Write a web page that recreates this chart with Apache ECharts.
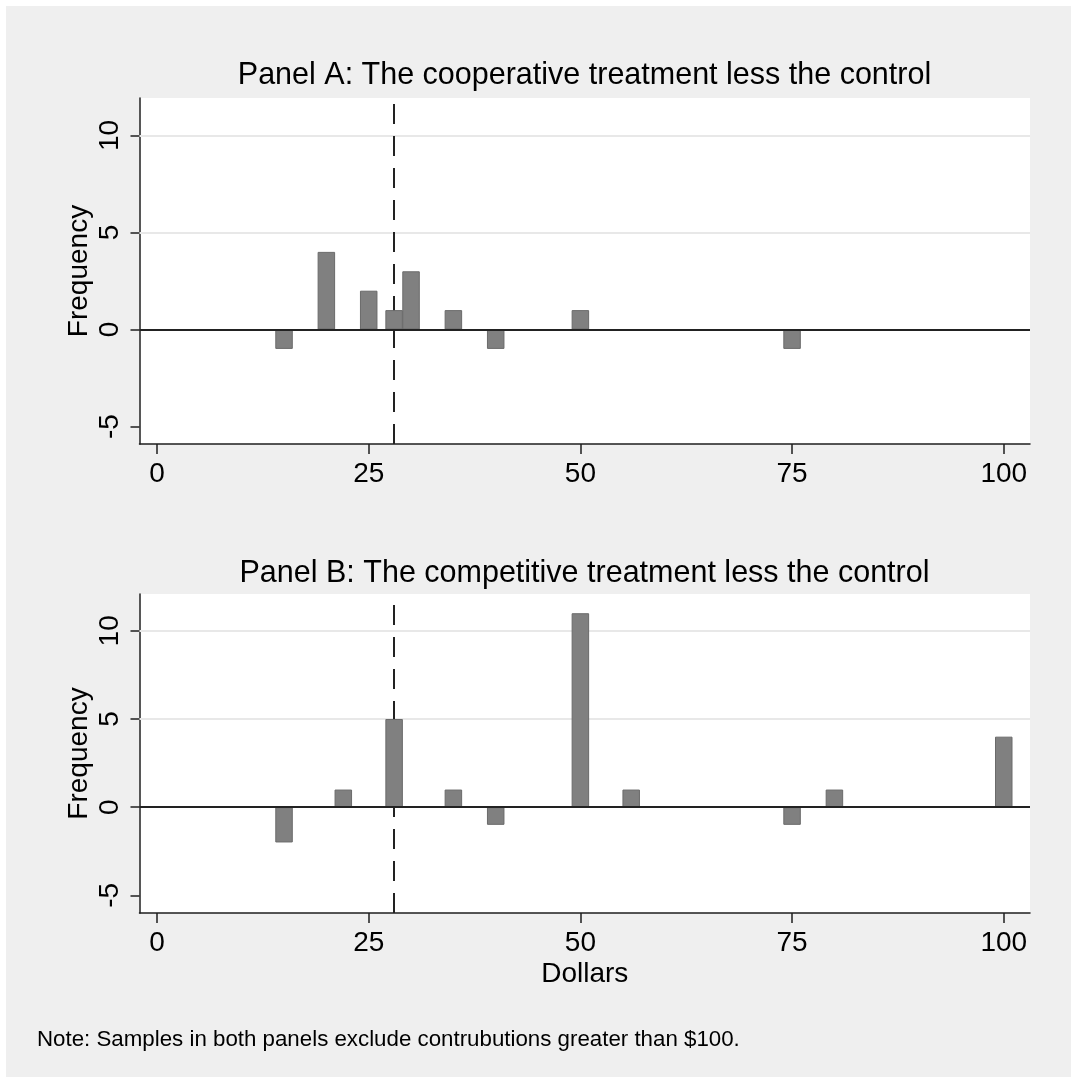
<!DOCTYPE html>
<html>
<head>
<meta charset="utf-8">
<script src="https://cdn.jsdelivr.net/npm/echarts@6/dist/echarts.min.js"></script>
<style>
html,body{margin:0;padding:0;background:#ffffff;}
#chart{position:absolute;left:6px;top:6px;width:1065px;height:1071px;background:#efefef;}
</style>
</head>
<body>
<div id="chart"></div>
<script>
// ---- data ----
const xTicks = [0, 25, 50, 75, 100];
const yTicks = [-5, 0, 5, 10];
const gridValues = [5, 10];
const panelADollars = [15, 20, 25, 28, 30, 35, 40, 50, 75];
const panelAFreq    = [-1, 4, 2, 1, 3, 1, -1, 1, -1];
const panelBDollars = [15, 22, 28, 35, 40, 50, 56, 75, 80, 100];
const panelBFreq    = [-2, 1, 5, 1, -1, 11, 1, -1, 1, 4];
const referenceLine = 28;
const titleA = 'Panel A: The cooperative treatment less the control';
const titleB = 'Panel B: The competitive treatment less the control';
const xTitle = 'Dollars';
const yTitle = 'Frequency';
const note = 'Note: Samples in both panels exclude contrubutions greater than $100.';

const FONT = '"Liberation Sans", Arial, Helvetica, sans-serif';
const chart = echarts.init(document.getElementById('chart'));

function pairs(xs, ys) { return xs.map((x, i) => [x, ys[i]]); }

function xAxisCfg(idx) {
  return {
    type: 'value', gridIndex: idx, min: -2.07, max: 103.1,
    splitLine: { show: false },
    axisLine: { show: true, onZero: false, lineStyle: { color: '#1f1f1f', width: 1.5 } },
    axisTick: { show: true, length: 10, customValues: xTicks, lineStyle: { color: '#1f1f1f', width: 1.5 } },
    axisLabel: { customValues: xTicks, margin: 16, fontSize: 28, color: '#000', fontFamily: FONT },
    name: idx === 1 ? xTitle : '', nameLocation: 'middle', nameGap: 47, nameMoveOverlap: false,
    nameTextStyle: { fontSize: 28, color: '#000', fontFamily: FONT }
  };
}
function yAxisCfg(idx, min, max) {
  return {
    type: 'value', gridIndex: idx, min: min, max: max,
    splitLine: { show: false },
    axisLine: { show: true, onZero: false, lineStyle: { color: '#1f1f1f', width: 1.5 } },
    axisTick: { show: true, length: 9, customValues: yTicks, lineStyle: { color: '#1f1f1f', width: 1.5 } },
    axisLabel: { customValues: yTicks, rotate: 90, margin: 15, fontSize: 28, color: '#000', fontFamily: FONT },
    name: yTitle, nameLocation: 'middle', nameGap: 46, nameRotate: 90, nameMoveOverlap: false,
    nameTextStyle: { fontSize: 28, color: '#000', fontFamily: FONT }
  };
}
function gridSeries(idx) {
  return {
    type: 'line', xAxisIndex: idx, yAxisIndex: idx, data: [], z: 1, silent: true,
    markLine: {
      z: 1, symbol: 'none', silent: true, label: { show: false },
      lineStyle: { color: '#e8e8e8', width: 2, type: 'solid' },
      data: gridValues.map(v => ({ yAxis: v }))
    }
  };
}
function refSeries(idx) {
  return {
    type: 'line', xAxisIndex: idx, yAxisIndex: idx, data: [], z: 2, silent: true,
    markLine: {
      z: 2, symbol: 'none', silent: true, label: { show: false },
      data: [
        { xAxis: referenceLine, lineStyle: { color: '#222', width: 2, type: [20, 12] } }
      ]
    }
  };
}
function zeroSeries(idx) {
  return {
    type: 'line', xAxisIndex: idx, yAxisIndex: idx, data: [], z: 5, silent: true,
    markLine: {
      z: 5, symbol: 'none', silent: true, label: { show: false },
      data: [ { yAxis: 0, lineStyle: { color: '#222222', width: 2.2, type: 'solid' } } ]
    }
  };
}
function barSeries(idx, d) {
  return {
    type: 'bar', xAxisIndex: idx, yAxisIndex: idx, data: d, barWidth: 17.5, z: 3,
    itemStyle: { color: '#808080', borderColor: '#6a6a6a', borderWidth: 1 }
  };
}

chart.setOption({
  animation: false,
  backgroundColor: '#efefef',
  grid: [
    { left: 133.5, right: 41, top: 92, height: 346, show: true, backgroundColor: '#ffffff', borderWidth: 0 },
    { left: 133.5, right: 41, top: 588, height: 319, show: true, backgroundColor: '#ffffff', borderWidth: 0 }
  ],
  xAxis: [xAxisCfg(0), xAxisCfg(1)],
  yAxis: [yAxisCfg(0, -5.9, 11.93), yAxisCfg(1, -6.0, 12.09)],
  series: [
    gridSeries(0), gridSeries(1),
    refSeries(0), refSeries(1),
    barSeries(0, pairs(panelADollars, panelAFreq)),
    barSeries(1, pairs(panelBDollars, panelBFreq)),
    zeroSeries(0), zeroSeries(1)
  ],
  graphic: [
    { type: 'text', x: 578.5, y: 70, style: { text: titleA, fontSize: 30.5, fill: '#000', fontFamily: FONT, textAlign: 'center', textVerticalAlign: 'middle' } },
    { type: 'text', x: 578.5, y: 568, style: { text: titleB, fontSize: 30.5, fill: '#000', fontFamily: FONT, textAlign: 'center', textVerticalAlign: 'middle' } },
    { type: 'text', x: 31, y: 1034, style: { text: note, fontSize: 22.3, fill: '#000', fontFamily: FONT, textAlign: 'left', textVerticalAlign: 'middle' } }
  ]
});
</script>
</body>
</html>
